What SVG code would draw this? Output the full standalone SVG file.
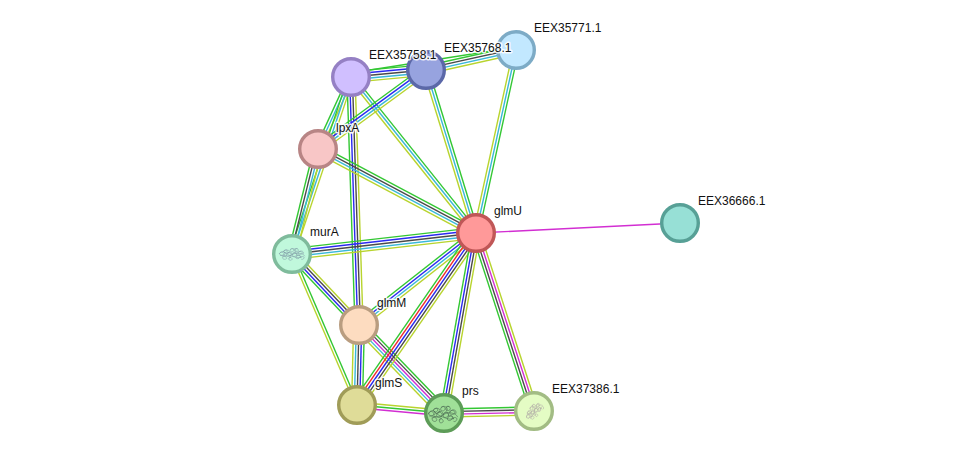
<svg xmlns="http://www.w3.org/2000/svg" xmlns:xlink="http://www.w3.org/1999/xlink" width="976" height="458" viewBox="0 0 976 458">
<style>
text{font-family:"Liberation Sans",Arial,sans-serif;font-size:12px;fill:#111;stroke:#fff;stroke-opacity:.85;stroke-width:3px;paint-order:stroke;stroke-linejoin:round}
circle{stroke-width:3.4;r:18.3px}
line{stroke-width:1.4;fill:none}
.g{stroke:#33c733}.b{stroke:#2a2af0}.k{stroke:#4a4a4a}.c{stroke:#3ab8d8}.o{stroke:#b8d42e}.r{stroke:#f02a2a}.m{stroke:#d22ed2}
.fold{fill:none;stroke-width:.5;stroke-linejoin:round}
</style>
<defs>
<!-- unit-length edge bundles: x runs 0..1 along the edge, y is the offset across it -->
<g id="gbkco"><line class="g" x2="1" y1="-5.4" y2="-5.4"/><line class="b" x2="1" y1="-2.7" y2="-2.7"/><line class="k" x2="1"/><line class="c" x2="1" y1="2.7" y2="2.7"/><line class="o" x2="1" y1="5.4" y2="5.4"/></g>
<g id="grbko"><line class="g" x2="1" y1="-5.4" y2="-5.4"/><line class="r" x2="1" y1="-2.7" y2="-2.7"/><line class="b" x2="1"/><line class="k" x2="1" y1="2.7" y2="2.7"/><line class="o" x2="1" y1="5.4" y2="5.4"/></g>
<g id="gkmco"><line class="g" x2="1" y1="-5.4" y2="-5.4"/><line class="k" x2="1" y1="-2.7" y2="-2.7"/><line class="m" x2="1"/><line class="c" x2="1" y1="2.7" y2="2.7"/><line class="o" x2="1" y1="5.4" y2="5.4"/></g>
<g id="gkco"><line class="g" x2="1" y1="-4.05" y2="-4.05"/><line class="k" x2="1" y1="-1.35" y2="-1.35"/><line class="c" x2="1" y1="1.35" y2="1.35"/><line class="o" x2="1" y1="4.05" y2="4.05"/></g>
<g id="gbko"><line class="g" x2="1" y1="-4.05" y2="-4.05"/><line class="b" x2="1" y1="-1.35" y2="-1.35"/><line class="k" x2="1" y1="1.35" y2="1.35"/><line class="o" x2="1" y1="4.05" y2="4.05"/></g>
<g id="gbco"><line class="g" x2="1" y1="-4.05" y2="-4.05"/><line class="b" x2="1" y1="-1.35" y2="-1.35"/><line class="c" x2="1" y1="1.35" y2="1.35"/><line class="o" x2="1" y1="4.05" y2="4.05"/></g>
<g id="gkmo"><line class="g" x2="1" y1="-4.05" y2="-4.05"/><line class="k" x2="1" y1="-1.35" y2="-1.35"/><line class="m" x2="1" y1="1.35" y2="1.35"/><line class="o" x2="1" y1="4.05" y2="4.05"/></g>
<g id="gco"><line class="g" x2="1" y1="-2.7" y2="-2.7"/><line class="c" x2="1"/><line class="o" x2="1" y1="2.7" y2="2.7"/></g>
<g id="ogm"><line class="o" x2="1" y1="-2.7" y2="-2.7"/><line class="g" x2="1"/><line class="m" x2="1" y1="2.7" y2="2.7"/></g>
<g id="go"><line class="g" x2="1" y1="-1.35" y2="-1.35"/><line class="o" x2="1" y1="1.35" y2="1.35"/></g>
<!-- tangled ribbon of a protein fold, drawn inside structure nodes -->
<path id="fold" class="fold" d="M-14 0c1-3 4-3 5-1s-2 4-4 2 2-5 4-4 2 4 0 4M-11 4c2-2 4-1 5 1s-3 3-4 1 2-4 4-3M-9-4c2-2 4-2 4 0s-3 3-4 1 3-3 5-2 1 4-1 4M-6 0c1-3 4-2 5 0s-2 4-4 3-1-4 1-5 4 0 4 2M-4 6c1-2 3-2 4 0s-2 3-3 2 0-4 2-4M-2-6c2-2 4-1 4 1s-3 3-4 1 2-4 4-3 3 3 1 4M0 1c1-3 4-3 5-1s-2 4-4 3 0-5 2-5 3 2 2 4M3-7c2-1 4 0 4 2s-3 2-4 1 1-4 3-3M5 3c1-2 4-2 4 0s-2 4-4 3 0-4 2-4 3 1 3 3M6-2c2-2 4-2 5 0s-2 3-4 2 1-4 3-4 3 2 2 4M9 5c1-2 3-2 4-1s-1 4-3 3M-13 2c4-1 7 2 11 0s6-4 10-3 5 2 6 4M-9-3c3 3 6 5 9 6s7 3 10 1"/>
</defs>

<g id="edges">
<use xlink:href="#gbkco" transform="matrix(75 -7 .093 .996 351 77)"/>
<line class="g" x1="351" y1="73" x2="516" y2="47"/>
<use xlink:href="#gkco" transform="matrix(90 -20 .217 .976 426 70)"/>
<use xlink:href="#gco" transform="matrix(-33 72 .909 .417 351 77)"/>
<use xlink:href="#gco" transform="matrix(-59 177 .949 .316 351 77)"/>
<use xlink:href="#gbko" transform="matrix(8 248 1 -.032 351 77)"/>
<use xlink:href="#gco" transform="matrix(125 156 -.78 .625 351 77)"/>
<use xlink:href="#gbco" transform="matrix(-108 79 .59 .807 426 70)"/>
<use xlink:href="#gco" transform="matrix(50 163 -.956 .293 426 70)"/>
<use xlink:href="#gco" transform="matrix(-40 183 -.977 -.214 516 50)"/>
<use xlink:href="#gkco" transform="matrix(-26 105 .97 .24 318 149)"/>
<use xlink:href="#gkco" transform="matrix(158 84 -.47 .883 318 149)"/>
<use xlink:href="#gbkco" transform="matrix(184 -21 .113 .994 292 254)"/>
<use xlink:href="#gbko" transform="matrix(67 71 .727 -.686 292 254)"/>
<use xlink:href="#go" transform="matrix(65 151 -.918 .395 292 254)"/>
<use xlink:href="#gbco" transform="matrix(117 -92 .618 .786 359 325)"/>
<use xlink:href="#gbkco" transform="matrix(-2 80 -1 -.025 359 325)"/>
<use xlink:href="#gkmco" transform="matrix(85 88 -.719 .695 359 325)"/>
<use xlink:href="#grbko" transform="matrix(119 -172 .822 .569 357 405)"/>
<use xlink:href="#gbko" transform="matrix(32 -180 .985 .175 444 413)"/>
<use xlink:href="#gkmo" transform="matrix(58 178 .951 -.31 476 233)"/>
<use xlink:href="#ogm" transform="matrix(87 8 -.092 .995 357 405)"/>
<use xlink:href="#gkmo" transform="matrix(90 -2 .022 1 444 413)"/>
<line class="m" x1="476" y1="233" x2="680" y2="223"/>
</g>

<g id="EEX35771.1"><circle cx="516" cy="50" fill="#c2e8ff" stroke="#7dabc6"/><text x="534" y="32">EEX35771.1</text></g>
<g id="EEX35768.1"><circle cx="426" cy="70" fill="#97a3df" stroke="#5b68a8"/><text x="444" y="52">EEX35768.1</text></g>
<g id="EEX35758.1"><circle cx="351" cy="77" fill="#d0bfff" stroke="#9580c4"/><text x="369" y="59">EEX35758.1</text></g>
<g id="lpxA"><circle cx="318" cy="149" fill="#f8c6c6" stroke="#b88585"/><text x="336" y="132">lpxA</text></g>
<g id="glmU"><circle cx="476" cy="233" fill="#ff9999" stroke="#c05757"/><text x="494" y="215">glmU</text></g>
<g id="EEX36666.1"><circle cx="680" cy="223" fill="#97e0d6" stroke="#57a096"/><text x="698" y="205">EEX36666.1</text></g>
<g id="murA"><circle cx="292" cy="254" fill="#c0f8dc" stroke="#7fbb9c"/><use xlink:href="#fold" stroke="#6f8499" transform="translate(292 254) scale(.92 .75)"/><text x="310" y="236">murA</text></g>
<g id="glmM"><circle cx="359" cy="325" fill="#fddcc0" stroke="#b99d80"/><text x="377" y="307">glmM</text></g>
<g id="glmS"><circle cx="357" cy="405" fill="#dfdc98" stroke="#a09c58"/><text x="375" y="387">glmS</text></g>
<g id="prs"><circle cx="444" cy="413" fill="#a0e098" stroke="#5d9c58"/><use xlink:href="#fold" stroke="#3f5a48" transform="translate(443 414) scale(1.05 1.05)"/><text x="462" y="395">prs</text></g>
<g id="EEX37386.1"><circle cx="534" cy="411" fill="#e4fcc4" stroke="#a2bc84"/><use xlink:href="#fold" stroke="#a08f9c" transform="translate(534 411) rotate(-45) scale(.72 .72)"/><text x="552" y="393">EEX37386.1</text></g>
</svg>
